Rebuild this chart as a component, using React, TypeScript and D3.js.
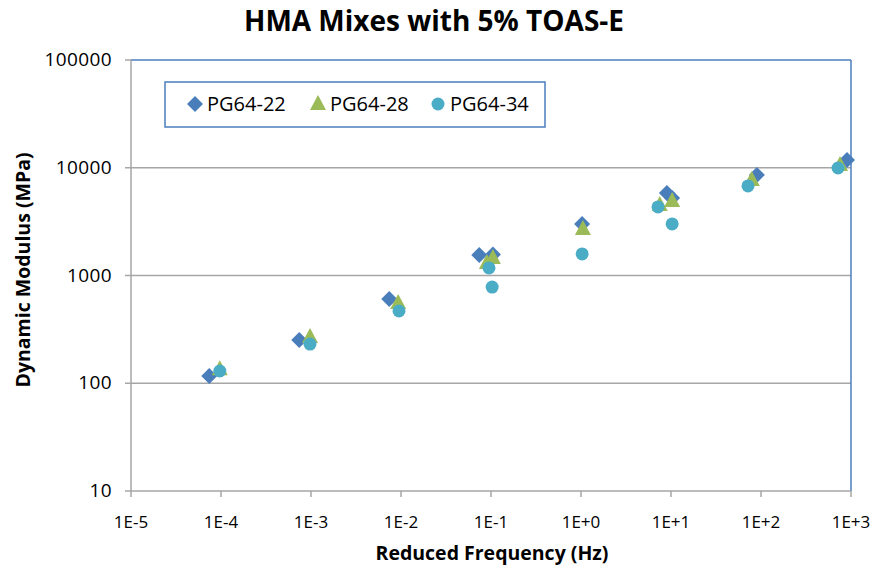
import React from "react";
import * as d3 from "d3";

const seriesNames = ["PG64-22", "PG64-28", "PG64-34"];
const colors = ["#4A7EBB", "#9BBB59", "#4BACC6"];

const freq22 = [7.4e-5, 7.4e-4, 0.0074, 0.074, 0.105, 1.03, 9.0, 10.3, 90, 903];
const mod22 = [117, 252, 605, 1550, 1570, 3000, 5830, 5240, 8570, 11800];

const freq28 = [9.7e-5, 9.75e-4, 0.0093, 0.09, 0.105, 1.05, 7.5, 10.3, 79, 755];
const mod28 = [135, 268, 556, 1306, 1452, 2700, 4510, 4910, 7700, 10600];

const freq34 = [9.7e-5, 9.75e-4, 0.0095, 0.095, 0.103, 1.03, 7.17, 10.3, 71.7, 718];
const mod34 = [130, 231, 469, 1175, 781, 1585, 4330, 3010, 6780, 9950];

const xTicks = [1e-5, 1e-4, 1e-3, 1e-2, 1e-1, 1, 10, 100, 1000];
const xTickLabels = ["1E-5", "1E-4", "1E-3", "1E-2", "1E-1", "1E+0", "1E+1", "1E+2", "1E+3"];
const yTicks = [10, 100, 1000, 10000, 100000];
const yTickLabels = ["10", "100", "1000", "10000", "100000"];

const W = 875, H = 573;
const left = 131, right = 851, top = 60, bottom = 491;
const FONT = "'Open Sans', Lato, sans-serif";

function Marker({ kind, x, y, color }: { kind: number; x: number; y: number; color: string }) {
  if (kind === 0) {
    const r = 8;
    return <path d={`M${x},${y - r}L${x + r},${y}L${x},${y + r}L${x - r},${y}Z`} fill={color} />;
  }
  if (kind === 1) {
    const h = 15, w = 16;
    return <path d={`M${x},${y - h * 0.6}L${x + w / 2},${y + h * 0.4}L${x - w / 2},${y + h * 0.4}Z`} fill={color} />;
  }
  return <circle cx={x} cy={y} r={6.5} fill={color} />;
}

export default function App() {
  const x = d3.scaleLog().domain([1e-5, 1e3]).range([left, right]);
  const y = d3.scaleLog().domain([10, 1e5]).range([bottom, top]);
  const series = [
    { f: freq22, m: mod22 },
    { f: freq28, m: mod28 },
    { f: freq34, m: mod34 },
  ];
  const legendItems = [
    { mx: 195, tx: 207 },
    { mx: 318, tx: 330 },
    { mx: 438, tx: 450 },
  ];
  return (
    <svg width={W} height={H} style={{ position: "absolute", left: 0, top: 0, background: "#fff" }}>
      <rect x={0} y={0} width={W} height={H} fill="#fff" />
      <text x={434} y={31} textAnchor="middle" fontFamily={FONT} fontWeight="bold" fontSize={28} fill="#000">
        HMA Mixes with 5% TOAS-E
      </text>
      {yTicks.slice(1, -1).map((t) => (
        <line key={t} x1={left} x2={right} y1={y(t)} y2={y(t)} stroke="#a6a6a6" strokeWidth={1.5} />
      ))}
      <line x1={left} x2={right} y1={top} y2={top} stroke="#4A7EBB" strokeWidth={1.5} />
      <line x1={right} x2={right} y1={top} y2={bottom} stroke="#4A7EBB" strokeWidth={1.5} />
      <line x1={left} x2={left} y1={top} y2={bottom} stroke="#a6a6a6" strokeWidth={1.5} />
      <line x1={left} x2={right} y1={bottom} y2={bottom} stroke="#a6a6a6" strokeWidth={1.5} />
      {yTicks.map((t, i) => (
        <g key={t}>
          <line x1={left - 6} x2={left} y1={y(t)} y2={y(t)} stroke="#a6a6a6" strokeWidth={1.5} />
          <text x={112} y={y(t) + 6} textAnchor="end" fontFamily={FONT} fontSize={19} letterSpacing={0.4} fill="#000">
            {yTickLabels[i]}
          </text>
        </g>
      ))}
      {xTicks.map((t, i) => (
        <g key={t}>
          <line x1={x(t)} x2={x(t)} y1={bottom} y2={bottom + 6} stroke="#a6a6a6" strokeWidth={1.5} />
          <text x={x(t)} y={528} textAnchor="middle" fontFamily={FONT} fontSize={17} fill="#000">
            {xTickLabels[i]}
          </text>
        </g>
      ))}
      <text x={492} y={560} textAnchor="middle" fontFamily={FONT} fontWeight="bold" fontSize={19.5} fill="#000">
        Reduced Frequency (Hz)
      </text>
      <text
        transform={`translate(30,270) rotate(-90)`}
        textAnchor="middle"
        fontFamily={FONT}
        fontWeight="bold"
        fontSize={19.5}
        fill="#000"
      >
        Dynamic Modulus  (MPa)
      </text>
      {series.map((s, si) =>
        s.f.map((f, i) => <Marker key={`${si}-${i}`} kind={si} x={x(f)} y={y(s.m[i])} color={colors[si]} />)
      )}
      <rect x={165} y={82} width={380} height={45} fill="#fff" stroke="#4A7EBB" strokeWidth={1.5} />
      {seriesNames.map((n, i) => (
        <g key={n}>
          <Marker kind={i} x={legendItems[i].mx} y={104} color={colors[i]} />
          <text x={legendItems[i].tx} y={111} fontFamily={FONT} fontSize={20} fill="#000">
            {n}
          </text>
        </g>
      ))}
    </svg>
  );
}
